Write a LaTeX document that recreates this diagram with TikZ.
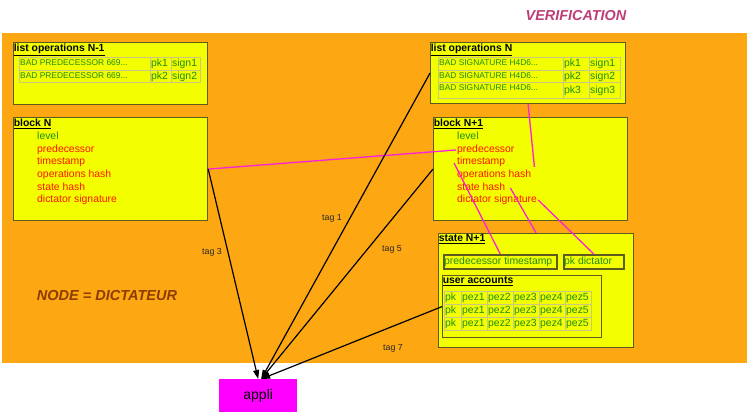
\documentclass[tikz,border=0pt]{standalone}
\usepackage{fontspec}
\setmainfont{Liberation Sans}
\usetikzlibrary{arrows.meta}
\definecolor{bgorange}{RGB}{253,168,18}
\definecolor{boxyellow}{RGB}{243,255,0}
\definecolor{boxborder}{RGB}{95,90,30}
\definecolor{cellgray}{RGB}{200,200,130}
\definecolor{txtgreen}{RGB}{30,140,20}
\definecolor{fieldred}{RGB}{255,20,0}
\definecolor{linkmag}{RGB}{255,30,220}
\definecolor{verif}{RGB}{190,60,120}
\definecolor{nodebrown}{RGB}{140,60,0}
\definecolor{appmag}{RGB}{255,0,255}
\newcommand\myfs[1]{\fontsize{#1}{#1}\selectfont}
\newcommand\tcell[7]{%
  \node[cell, minimum width=#4pt, minimum height=#5pt] (#1) at (#2,#3) {};
  \node[ctxt,#6] (#1t) at ([xshift=1pt]#1.west) {#7};}
\begin{document}
\begin{tikzpicture}[x=1pt,y=-1pt,
  box/.style={draw=boxborder, line width=1.2pt, fill=boxyellow, anchor=north west, inner sep=0pt},
  ttl/.style={anchor=north west, inner sep=0.6pt, yshift=-1pt, font=\myfs{10.4}\bfseries},
  fld/.style={anchor=west, inner sep=1pt, text height=7.6pt, text depth=2.2pt, font=\myfs{10.4}, text=fieldred},
  cell/.style={draw=cellgray, line width=0.8pt, anchor=north west, inner sep=0pt},
  ctxt/.style={anchor=west, inner sep=0pt, text height=7.6pt, text depth=2.2pt, font=\myfs{10.4}, text=txtgreen},
  tagl/.style={font=\myfs{8.8}, text=black!85, inner sep=0pt},
  arr/.style={draw=black, line width=1.2pt, -{Triangle[length=9pt,width=6pt]}},
  mline/.style={draw=linkmag, line width=1.3pt}]
\useasboundingbox (0,0) rectangle (754,414);
\fill[white] (0,0) rectangle (754,414);
\fill[bgorange] (2,33) rectangle (747,363);

\node[font=\myfs{14.4}\bfseries\itshape, text=verif] (verif) at (576,16) {VERIFICATION};
\node[font=\myfs{14.5}\bfseries\itshape, text=nodebrown] (dict) at (107,296) {NODE = DICTATEUR};

% list operations N-1
\node[box, minimum width=194pt, minimum height=62pt] (lopA) at (13,42) {};
\node[ttl] (lopAt) at (lopA.north west) {\underline{list operations N-1}};
\tcell{a11}{19}{57}{131}{13}{font=\myfs{8.4}, text height=6pt, text depth=1.8pt}{BAD PREDECESSOR 669...}
\tcell{a12}{150}{57}{21}{13}{}{pk1}
\tcell{a13}{171}{57}{29}{13}{}{sign1}
\tcell{a21}{19}{70}{131}{12}{font=\myfs{8.4}, text height=6pt, text depth=1.8pt}{BAD PREDECESSOR 669...}
\tcell{a22}{150}{70}{21}{12}{}{pk2}
\tcell{a23}{171}{70}{29}{12}{}{sign2}

% block N
\node[box, minimum width=194pt, minimum height=103pt] (blkA) at (13,117) {};
\node[ttl] (blkAt) at (blkA.north west) {\underline{block N}};
\node[fld, text=txtgreen] (aLvl) at (36,137) {level};
\node[fld] (aPred) at (36,150) {predecessor};
\node[fld] (aTs) at (36,162) {timestamp};
\node[fld] (aOps) at (36,175) {operations hash};
\node[fld] (aSt) at (36,188) {state hash};
\node[fld] (aSig) at (36,200) {dictator signature};

% list operations N
\node[box, minimum width=195pt, minimum height=61pt] (lopB) at (430,42) {};
\node[ttl] (lopBt) at (lopB.north west) {\underline{list operations N}};
\tcell{b11}{438}{57}{125}{13}{font=\myfs{8.4}, text height=6pt, text depth=1.8pt}{BAD SIGNATURE H4D6...}
\tcell{b12}{563}{57}{26}{13}{}{pk1}
\tcell{b13}{589}{57}{31}{13}{}{sign1}
\tcell{b21}{438}{70}{125}{12}{font=\myfs{8.4}, text height=6pt, text depth=1.8pt}{BAD SIGNATURE H4D6...}
\tcell{b22}{563}{70}{26}{12}{}{pk2}
\tcell{b23}{589}{70}{31}{12}{}{sign2}
\tcell{b31}{438}{82}{125}{16}{font=\myfs{8.4}, text height=6pt, text depth=1.8pt, yshift=2pt}{BAD SIGNATURE H4D6...}
\tcell{b32}{563}{82}{26}{16}{}{pk3}
\tcell{b33}{589}{82}{31}{16}{}{sign3}

% block N+1
\node[box, minimum width=194pt, minimum height=103pt] (blkB) at (433,117) {};
\node[ttl] (blkBt) at (blkB.north west) {\underline{block N+1}};
\node[fld, text=txtgreen] (bLvl) at (456,137) {level};
\node[fld] (bPred) at (456,150) {predecessor};
\node[fld] (bTs) at (456,162) {timestamp};
\node[fld] (bOps) at (456,175) {operations hash};
\node[fld] (bSt) at (456,188) {state hash};
\node[fld] (bSig) at (456,200) {dictator signature};

% state N+1
\node[box, minimum width=195pt, minimum height=114pt] (stB) at (438,233) {};
\node[ttl] (stBt) at (stB.north west) {\underline{state N+1}};
\node[box, line width=1.5pt, minimum width=113pt, minimum height=14pt] (pts) at (443,254) {};
\node[ctxt] (ptst) at ([xshift=1pt]pts.west) {predecessor timestamp};
\node[box, line width=1.5pt, minimum width=60pt, minimum height=14pt] (pkd) at (563,254) {};
\node[ctxt] (pkdt) at ([xshift=1pt]pkd.west) {pk dictator};
\node[box, minimum width=159pt, minimum height=62pt] (ua) at (442,275) {};
\node[ttl] (uat) at (ua.north west) {\underline{user accounts}};
\tcell{u11}{444}{291}{17}{13}{}{pk}
\tcell{u12}{461}{291}{26}{13}{}{pez1}
\tcell{u13}{487}{291}{26}{13}{}{pez2}
\tcell{u14}{513}{291}{26}{13}{}{pez3}
\tcell{u15}{539}{291}{26}{13}{}{pez4}
\tcell{u16}{565}{291}{26}{13}{}{pez5}
\tcell{u21}{444}{304}{17}{13}{}{pk}
\tcell{u22}{461}{304}{26}{13}{}{pez1}
\tcell{u23}{487}{304}{26}{13}{}{pez2}
\tcell{u24}{513}{304}{26}{13}{}{pez3}
\tcell{u25}{539}{304}{26}{13}{}{pez4}
\tcell{u26}{565}{304}{26}{13}{}{pez5}
\tcell{u31}{444}{317}{17}{13}{}{pk}
\tcell{u32}{461}{317}{26}{13}{}{pez1}
\tcell{u33}{487}{317}{26}{13}{}{pez2}
\tcell{u34}{513}{317}{26}{13}{}{pez3}
\tcell{u35}{539}{317}{26}{13}{}{pez4}
\tcell{u36}{565}{317}{26}{13}{}{pez5}

% appli
\node[fill=appmag, anchor=north west, minimum width=78pt, minimum height=33pt, inner sep=0pt] (app) at (219,379) {};
\node[font=\myfs{14}, inner sep=0pt] (appt) at (app.center) {appli};

% tags
\node[tagl] (tag1) at (332,218) {tag 1};
\node[tagl] (tag3) at (212,252) {tag 3};
\node[tagl] (tag5) at (392,249) {tag 5};
\node[tagl] (tag7) at (393,348) {tag 7};

% magenta links
\draw[mline] (blkA.east) -- (bPred.west);
\draw[mline] (lopB.south) -- ([xshift=2pt,yshift=2pt]bOps.north east);
\draw[mline] ([xshift=-2pt,yshift=-1pt]bTs.west) -- (pts.north);
\draw[mline] ([xshift=4pt]bSt.east) -- (stB.north);
\draw[mline] (bSig.east) -- (pkd.north);

% black arrows
\draw[arr] (blkA.east) -- (app.north);
\draw[arr] (lopB.west) -- ([xshift=3pt]app.north);
\draw[arr] (blkB.west) -- ([xshift=3pt]app.north);
\draw[arr] (ua.west) -- ([xshift=3pt]app.north);
\end{tikzpicture}
\end{document}
